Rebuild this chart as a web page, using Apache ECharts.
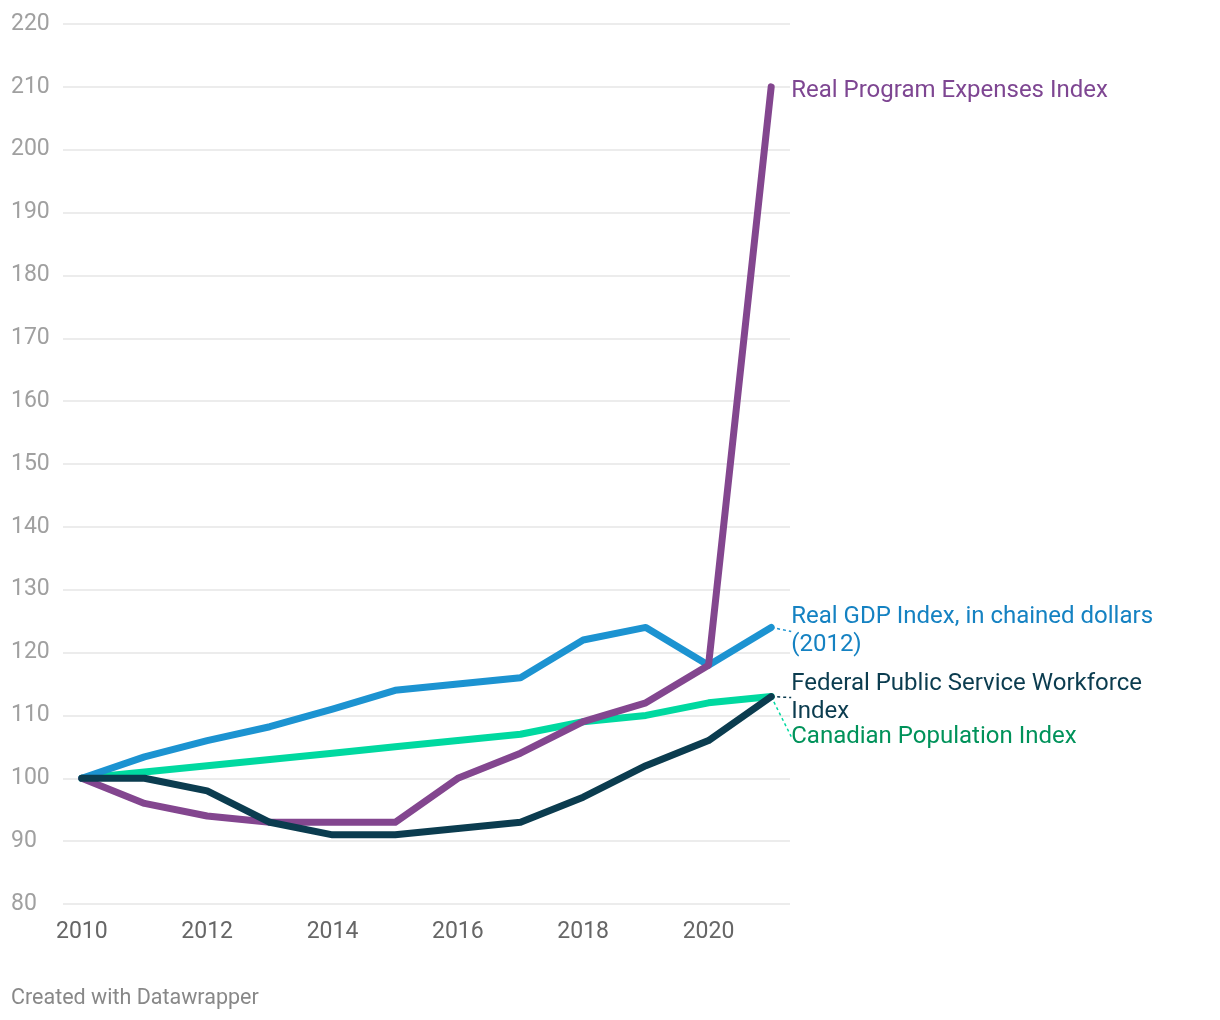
<!DOCTYPE html>
<html>
<head>
<meta charset="utf-8">
<script src="https://cdn.jsdelivr.net/npm/echarts@6/dist/echarts.min.js"></script>
<style>
html,body{margin:0;padding:0;background:#fff;}
#chart{width:1220px;height:1020px;}
</style>
</head>
<body>
<div id="chart"></div>
<script>
const years = [2010, 2011, 2012, 2013, 2014, 2015, 2016, 2017, 2018, 2019, 2020, 2021];
const xTickLabels = [2010, 2012, 2014, 2016, 2018, 2020];
const yTicks = [80, 90, 100, 110, 120, 130, 140, 150, 160, 170, 180, 190, 200, 210, 220];

const gdpName = 'Real GDP Index, in chained dollars\n(2012)';
const gdpValues = [100, 103.4, 106, 108.2, 111, 114, 115, 116, 122, 124, 118, 124];

const popName = 'Canadian Population Index';
const popValues = [100, 101, 102, 103, 104, 105, 106, 107, 109, 110, 112, 113];

const expName = 'Real Program Expenses Index';
const expValues = [100, 96, 94, 93, 93, 93, 100, 104, 109, 112, 118, 210];

const wfName = 'Federal Public Service Workforce\nIndex';
const wfValues = [100, 100, 98, 93, 91, 91, 92, 93, 97, 102, 106, 113];

const FONT = 'Roboto, "Noto Sans", sans-serif';

function makeSeries(name, values, color, textColor, dy, z, showLine) {
  const last = values.length - 1;
  const data = values.map((v, i) => {
    const item = { value: [years[i], v] };
    if (i === last) {
      item.label = {
        show: true,
        position: 'right',
        distance: 20,
        formatter: name,
        color: textColor,
        fontFamily: FONT,
        fontSize: 24,
        lineHeight: 28,
        align: 'left',
        verticalAlign: 'middle'
      };
    }
    return item;
  });
  return {
    type: 'line',
    name: name,
    data: data,
    z: z,
    clip: false,
    symbol: 'circle',
    symbolSize: 0.01,
    showSymbol: true,
    lineStyle: { color: color, width: 7, cap: 'round', join: 'round' },
    itemStyle: { color: color },
    label: { show: false },
    labelLayout: function (p) {
      if (p.dataIndex === last) return { dy: dy };
      return {};
    },
    labelLine: {
      show: showLine,
      length2: 0,
      lineStyle: { color: color, width: 1.5, type: [3, 3] }
    },
    emphasis: { disabled: true },
    animation: false
  };
}

const chart = echarts.init(document.getElementById('chart'), null, { renderer: 'canvas' });
chart.setOption({
  backgroundColor: '#ffffff',
  animation: false,
  grid: { left: 63, right: 430, top: 24, bottom: 116, containLabel: false },
  xAxis: {
    type: 'value',
    min: 2009.7,
    max: 2021.3,
    axisLine: { show: false },
    axisTick: { show: false },
    splitLine: { show: false },
    axisLabel: {
      customValues: xTickLabels,
      formatter: v => String(v),
      color: '#666666',
      fontFamily: FONT,
      fontSize: 23,
      margin: 17
    }
  },
  yAxis: {
    type: 'value',
    min: 80,
    max: 220,
    interval: 10,
    axisLine: { show: false },
    axisTick: { show: false },
    splitLine: { show: true, lineStyle: { color: '#e6e6e6', width: 1.5 } },
    axisLabel: {
      color: '#a0a0a0',
      fontFamily: FONT,
      fontSize: 23,
      align: 'left',
      margin: 52,
      verticalAlign: 'middle'
    }
  },
  graphic: [{
    type: 'text',
    left: 11,
    top: 988,
    style: { text: 'Created with Datawrapper', fill: '#888888', font: '21.5px ' + FONT }
  }],
  series: [
    makeSeries(popName, popValues, '#00d9a0', '#00925a', 40, 2, true),
    makeSeries(gdpName, gdpValues, '#1c93d1', '#1582c2', 4, 3, true),
    makeSeries(expName, expValues, '#83468f', '#7e4692', 4, 4, false),
    makeSeries(wfName, wfValues, '#0b3c4f', '#0b3c4f', 1, 5, true)
  ]
});
</script>
</body>
</html>
